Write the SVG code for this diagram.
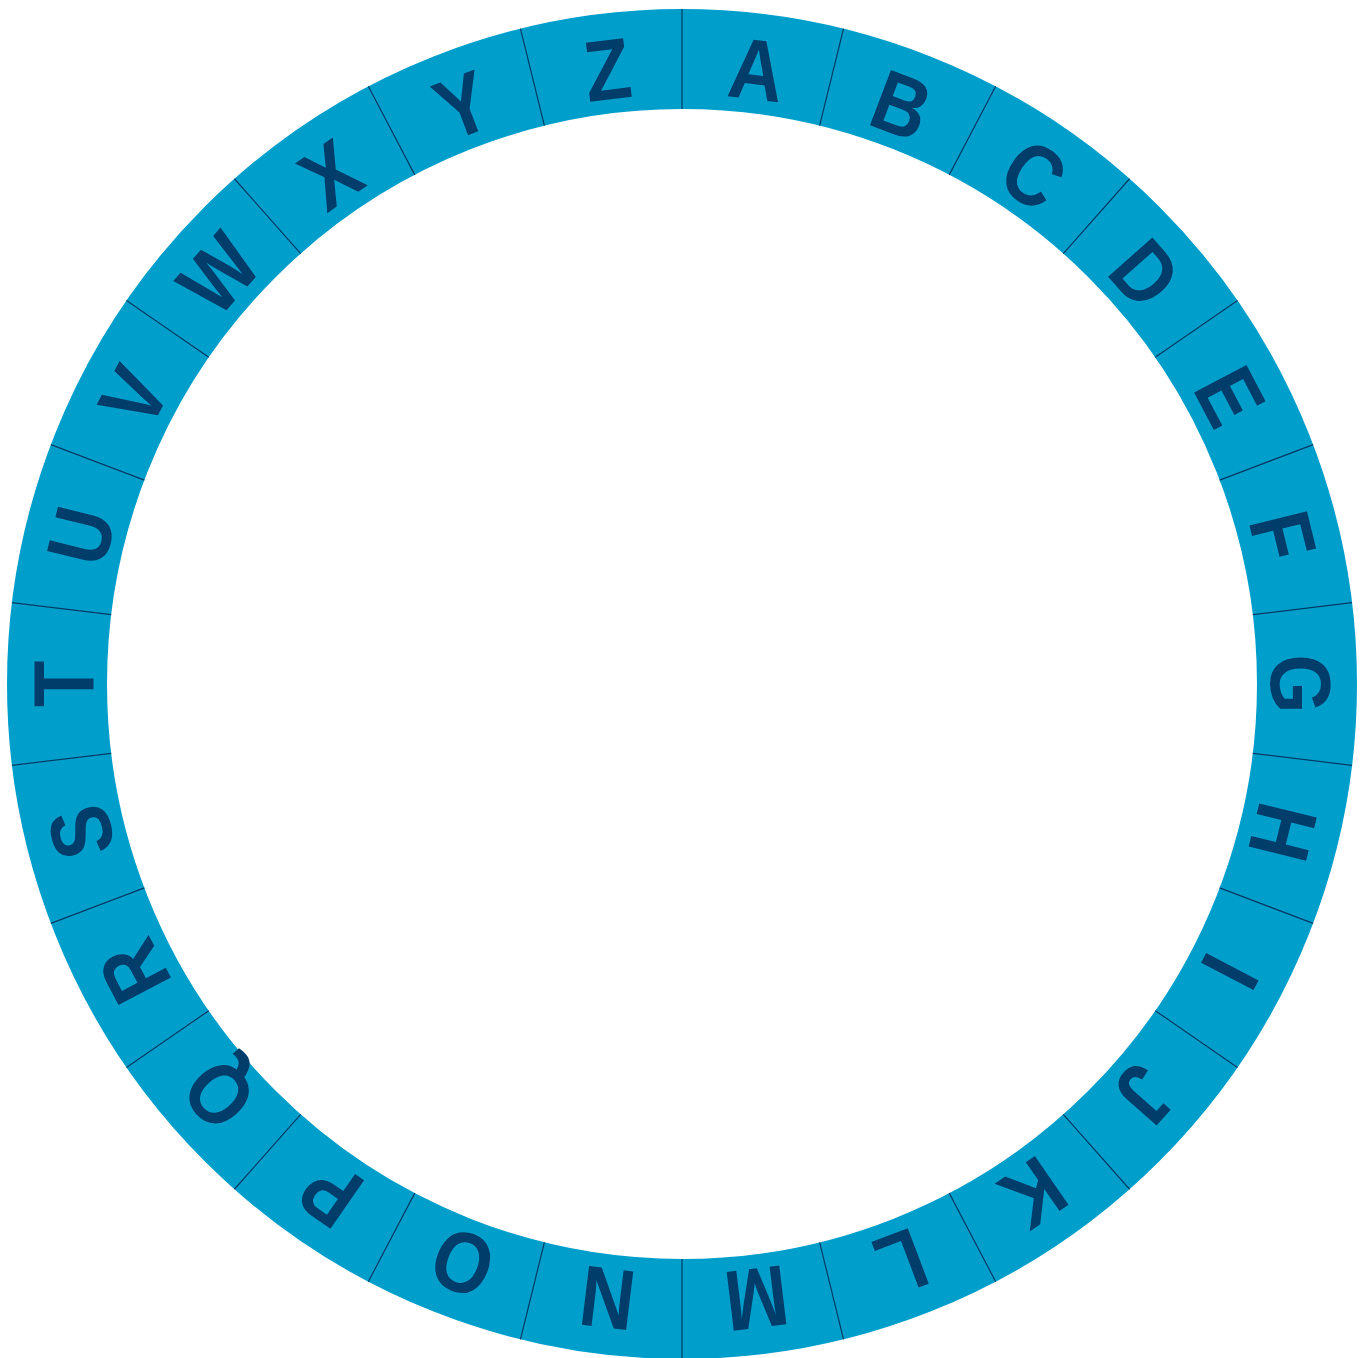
<svg xmlns="http://www.w3.org/2000/svg" width="1366" height="1358" viewBox="0 0 1366 1358">
<style>
.ring{fill:none;stroke:#009FCB;stroke-width:100}
.div{stroke:#003A66;stroke-width:1.2}
.lt{font-family:"Liberation Sans",Arial,sans-serif;font-weight:bold;font-size:86px;fill:#003D6B;text-anchor:middle}
</style>
<rect width="1366" height="1358" fill="#ffffff"/>
<g id="ring"><circle class="ring" cx="682" cy="684" r="625"/></g>
<g id="connectors">
<line class="div" x1="682" y1="109" x2="682" y2="9" transform="rotate(0 682 684)"/>
<line class="div" x1="682" y1="109" x2="682" y2="9" transform="rotate(13.846 682 684)"/>
<line class="div" x1="682" y1="109" x2="682" y2="9" transform="rotate(27.692 682 684)"/>
<line class="div" x1="682" y1="109" x2="682" y2="9" transform="rotate(41.538 682 684)"/>
<line class="div" x1="682" y1="109" x2="682" y2="9" transform="rotate(55.385 682 684)"/>
<line class="div" x1="682" y1="109" x2="682" y2="9" transform="rotate(69.231 682 684)"/>
<line class="div" x1="682" y1="109" x2="682" y2="9" transform="rotate(83.077 682 684)"/>
<line class="div" x1="682" y1="109" x2="682" y2="9" transform="rotate(96.923 682 684)"/>
<line class="div" x1="682" y1="109" x2="682" y2="9" transform="rotate(110.769 682 684)"/>
<line class="div" x1="682" y1="109" x2="682" y2="9" transform="rotate(124.615 682 684)"/>
<line class="div" x1="682" y1="109" x2="682" y2="9" transform="rotate(138.462 682 684)"/>
<line class="div" x1="682" y1="109" x2="682" y2="9" transform="rotate(152.308 682 684)"/>
<line class="div" x1="682" y1="109" x2="682" y2="9" transform="rotate(166.154 682 684)"/>
<line class="div" x1="682" y1="109" x2="682" y2="9" transform="rotate(180 682 684)"/>
<line class="div" x1="682" y1="109" x2="682" y2="9" transform="rotate(193.846 682 684)"/>
<line class="div" x1="682" y1="109" x2="682" y2="9" transform="rotate(207.692 682 684)"/>
<line class="div" x1="682" y1="109" x2="682" y2="9" transform="rotate(221.538 682 684)"/>
<line class="div" x1="682" y1="109" x2="682" y2="9" transform="rotate(235.385 682 684)"/>
<line class="div" x1="682" y1="109" x2="682" y2="9" transform="rotate(249.231 682 684)"/>
<line class="div" x1="682" y1="109" x2="682" y2="9" transform="rotate(263.077 682 684)"/>
<line class="div" x1="682" y1="109" x2="682" y2="9" transform="rotate(276.923 682 684)"/>
<line class="div" x1="682" y1="109" x2="682" y2="9" transform="rotate(290.769 682 684)"/>
<line class="div" x1="682" y1="109" x2="682" y2="9" transform="rotate(304.615 682 684)"/>
<line class="div" x1="682" y1="109" x2="682" y2="9" transform="rotate(318.462 682 684)"/>
<line class="div" x1="682" y1="109" x2="682" y2="9" transform="rotate(332.308 682 684)"/>
<line class="div" x1="682" y1="109" x2="682" y2="9" transform="rotate(346.154 682 684)"/>
</g>
<g id="A"><text class="lt" transform="rotate(6.923 682 684) translate(682 95) scale(0.88 1)">A</text></g>
<g id="B"><text class="lt" transform="rotate(20.769 682 684) translate(682 95) scale(0.88 1)">B</text></g>
<g id="C"><text class="lt" transform="rotate(34.615 682 684) translate(682 95) scale(0.88 1)">C</text></g>
<g id="D"><text class="lt" transform="rotate(48.462 682 684) translate(682 95) scale(0.88 1)">D</text></g>
<g id="E"><text class="lt" transform="rotate(62.308 682 684) translate(682 95) scale(0.88 1)">E</text></g>
<g id="F"><text class="lt" transform="rotate(76.154 682 684) translate(682 95) scale(0.88 1)">F</text></g>
<g id="G"><text class="lt" transform="rotate(90 682 684) translate(682 95) scale(0.88 1)">G</text></g>
<g id="H"><text class="lt" transform="rotate(103.846 682 684) translate(682 95) scale(0.88 1)">H</text></g>
<g id="I"><text class="lt" transform="rotate(117.692 682 684) translate(682 95) scale(0.88 1)">I</text></g>
<g id="J"><text class="lt" transform="rotate(131.538 682 684) translate(682 95) scale(0.88 1)">J</text></g>
<g id="K"><text class="lt" transform="rotate(145.385 682 684) translate(682 95) scale(0.88 1)">K</text></g>
<g id="L"><text class="lt" transform="rotate(159.231 682 684) translate(682 95) scale(0.88 1)">L</text></g>
<g id="M"><text class="lt" transform="rotate(173.077 682 684) translate(682 95) scale(0.88 1)">M</text></g>
<g id="N"><text class="lt" transform="rotate(186.923 682 684) translate(682 95) scale(0.88 1)">N</text></g>
<g id="O"><text class="lt" transform="rotate(200.769 682 684) translate(682 95) scale(0.88 1)">O</text></g>
<g id="P"><text class="lt" transform="rotate(214.615 682 684) translate(682 95) scale(0.88 1)">P</text></g>
<g id="Q"><text class="lt" transform="rotate(228.462 682 684) translate(682 95) scale(0.88 1)">Q</text></g>
<g id="R"><text class="lt" transform="rotate(242.308 682 684) translate(682 95) scale(0.88 1)">R</text></g>
<g id="S"><text class="lt" transform="rotate(256.154 682 684) translate(682 95) scale(0.88 1)">S</text></g>
<g id="T"><text class="lt" transform="rotate(270 682 684) translate(682 95) scale(0.88 1)">T</text></g>
<g id="U"><text class="lt" transform="rotate(283.846 682 684) translate(682 95) scale(0.88 1)">U</text></g>
<g id="V"><text class="lt" transform="rotate(297.692 682 684) translate(682 95) scale(0.88 1)">V</text></g>
<g id="W"><text class="lt" transform="rotate(311.538 682 684) translate(682 95) scale(0.88 1)">W</text></g>
<g id="X"><text class="lt" transform="rotate(325.385 682 684) translate(682 95) scale(0.88 1)">X</text></g>
<g id="Y"><text class="lt" transform="rotate(339.231 682 684) translate(682 95) scale(0.88 1)">Y</text></g>
<g id="Z"><text class="lt" transform="rotate(353.077 682 684) translate(682 95) scale(0.88 1)">Z</text></g>
</svg>
